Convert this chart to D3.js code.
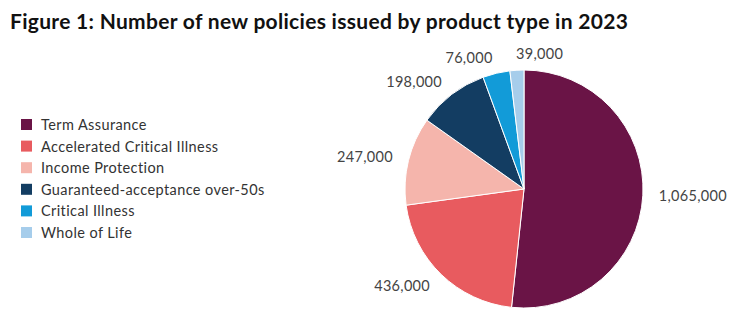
<!DOCTYPE html>
<html>
<head>
<meta charset="utf-8">
<script src="https://cdn.jsdelivr.net/npm/d3@7"></script>
<style>
  body { margin: 0; background: #fff; }
  svg { font-family: Lato, "Open Sans", sans-serif; }
</style>
</head>
<body>
<svg id="chart" width="753" height="328"></svg>
<script>
// Data
let products = ["Term Assurance", "Accelerated Critical Illness", "Income Protection",
                "Guaranteed-acceptance over-50s", "Critical Illness", "Whole of Life"];
let policies = [1065000, 436000, 247000, 198000, 76000, 39000];
let colours = ["#6a1446", "#e85b5f", "#f5b5ac", "#133d62", "#129bd8", "#a6cdeb"];

let width = 753;
let height = 328;
let cx = 524;
let cy = 189;
let radius = 119;

let svg = d3.select("#chart");

svg.append("text")
    .attr("x", 10)
    .attr("y", 29)
    .attr("font-size", 21)
    .attr("font-weight", "bold")
    .attr("letter-spacing", 0.3)
    .attr("fill", "#111")
    .text("Figure 1: Number of new policies issued by product type in 2023");

let data = products.map((p, i) => ({name: p, value: policies[i], colour: colours[i]}));

let pie = d3.pie().sort(null).value(d => d.value);
let arc = d3.arc().innerRadius(0).outerRadius(radius);
let labelArc = d3.arc().innerRadius(radius + 16).outerRadius(radius + 16);

let g = svg.append("g").attr("transform", "translate(" + cx + "," + cy + ")");

let arcs = pie(data);

g.selectAll("path")
    .data(arcs)
    .enter()
    .append("path")
    .attr("d", arc)
    .attr("fill", d => d.data.colour)
    .attr("stroke", "#fff")
    .attr("stroke-width", 1);

g.selectAll("text")
    .data(arcs)
    .enter()
    .append("text")
    .attr("x", d => labelArc.centroid(d)[0])
    .attr("y", d => labelArc.centroid(d)[1])
    .attr("dy", "0.35em")
    .attr("text-anchor", d => labelArc.centroid(d)[0] < -15 ? "end" : "start")
    .attr("font-size", 14.5)
    .attr("letter-spacing", 0.3)
    .attr("fill", "#444")
    .text(d => d3.format(",")(d.value));

// Legend
let legend = svg.append("g").attr("transform", "translate(21,119)");

let items = legend.selectAll("g")
    .data(data)
    .enter()
    .append("g")
    .attr("transform", (d, i) => "translate(0," + (i * 21.6) + ")");

items.append("rect")
    .attr("width", 11)
    .attr("height", 11)
    .attr("fill", d => d.colour);

items.append("text")
    .attr("x", 20)
    .attr("y", 6)
    .attr("dy", "0.35em")
    .attr("font-size", 14.5)
    .attr("letter-spacing", 0.4)
    .attr("fill", "#333")
    .text(d => d.name);
</script>
</body>
</html>
